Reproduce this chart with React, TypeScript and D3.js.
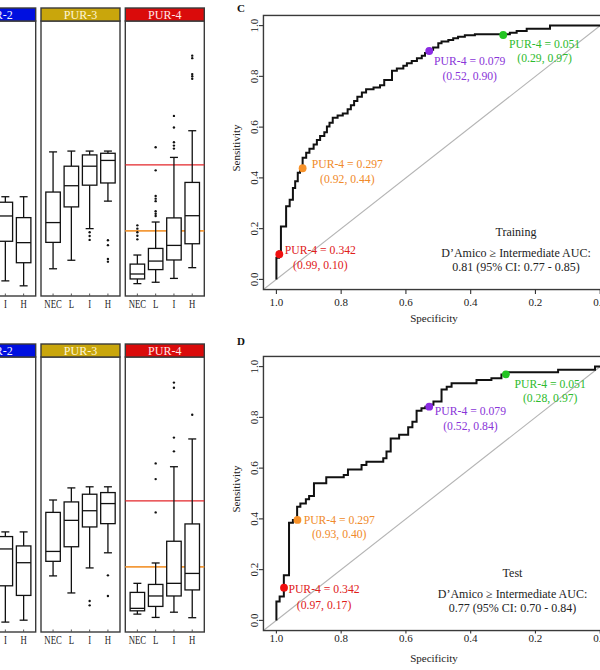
import React from "react";
import * as d3 from "d3";

const FONT = '"Liberation Serif", "Times New Roman", Times, serif';

// ---------- Box plot data (score units, 0..1 of the panel axis) ----------
const CATEGORIES = ["NEC", "L", "I", "H"];
const PANELS = ["PUR-2", "PUR-3", "PUR-4"];
const PANEL_COLORS = ["#0010E0", "#C9A60C", "#DA0B0B"];
const PANEL_TEXT = ["#f4f4ff", "#fff7d8", "#ffe8e8"];

// [lower whisker, Q1, median, Q3, upper whisker]; null = not visible in the crop
const TRAIN_PUR2 = [null, null, [0.055, 0.199, 0.291, 0.341, 0.361], [0.037, 0.121, 0.194, 0.285, 0.361]];
const TRAIN_PUR3 = [
  [0.099, 0.195, 0.267, 0.378, 0.524],
  [0.13, 0.324, 0.401, 0.472, 0.527],
  [0.245, 0.403, 0.472, 0.513, 0.527],
  [0.345, 0.411, 0.493, 0.519, 0.527],
];
const TRAIN_PUR4 = [
  [0.045, 0.062, 0.08, 0.116, 0.149],
  [0.05, 0.096, 0.127, 0.173, 0.269],
  [0.064, 0.131, 0.184, 0.284, 0.504],
  [0.103, 0.19, 0.292, 0.413, 0.601],
];
const TRAIN_OUT_PUR2 = [[], [], [], []];
const TRAIN_OUT_PUR3 = [[], [], [0.232, 0.218, 0.204], [0.203, 0.185, 0.135, 0.125]];
const TRAIN_OUT_PUR4 = [
  [0.257, 0.245, 0.232, 0.219, 0.206],
  [0.541, 0.457, 0.364, 0.354, 0.345, 0.308, 0.299, 0.291],
  [0.655, 0.613, 0.559, 0.547, 0.536],
  [0.874, 0.865, 0.807, 0.799, 0.79],
];

const TEST_PUR2 = [null, null, [0.036, 0.168, 0.302, 0.347, 0.364], [0.043, 0.133, 0.252, 0.313, 0.364]];
const TEST_PUR3 = [
  [0.204, 0.257, 0.293, 0.435, 0.48],
  [0.142, 0.31, 0.406, 0.473, 0.524],
  [0.233, 0.382, 0.441, 0.501, 0.528],
  [0.288, 0.394, 0.467, 0.507, 0.528],
];
const TEST_PUR4 = [
  [0.065, 0.077, 0.086, 0.144, 0.177],
  [0.053, 0.093, 0.131, 0.173, 0.251],
  [0.072, 0.131, 0.177, 0.33, 0.601],
  [0.052, 0.153, 0.213, 0.393, 0.702],
];
const TEST_OUT_PUR2 = [[], [], [], []];
const TEST_OUT_PUR3 = [[], [], [0.113, 0.097], [0.206, 0.131]];
const TEST_OUT_PUR4 = [[], [0.613, 0.556, 0.435], [0.907, 0.888, 0.707, 0.657], [0.79]];

const CUTOFF_HIGH = 0.477; // PUR-4 = 0.342
const CUTOFF_LOW = 0.237; // PUR-4 = 0.297

// ---------- ROC data ----------
const TRAIN_SPEC = [
  1.0, 1.0, 0.992, 0.992, 0.986, 0.986, 0.97, 0.97, 0.959, 0.959, 0.949, 0.949, 0.942, 0.942, 0.934, 0.934,
  0.927, 0.927, 0.919, 0.919, 0.908, 0.908, 0.898, 0.898, 0.885, 0.885, 0.875, 0.875, 0.865, 0.865, 0.852,
  0.852, 0.844, 0.844, 0.836, 0.836, 0.826, 0.826, 0.811, 0.811, 0.795, 0.795, 0.78, 0.78, 0.77, 0.77, 0.76,
  0.76, 0.75, 0.75, 0.736, 0.736, 0.723, 0.723, 0.7, 0.7, 0.68, 0.68, 0.667, 0.667, 0.643, 0.643, 0.628,
  0.628, 0.608, 0.608, 0.597, 0.597, 0.582, 0.582, 0.566, 0.566, 0.551, 0.551, 0.541, 0.541, 0.528, 0.528,
  0.516, 0.516, 0.5, 0.5, 0.49, 0.49, 0.469, 0.469, 0.454, 0.454, 0.439, 0.439, 0.418, 0.418, 0.387, 0.387,
  0.279, 0.279, 0.258, 0.258, 0.227, 0.227, 0.155, 0.155, 0.0,
];
const TRAIN_SENS = [
  0.0, 0.085, 0.085, 0.11, 0.11, 0.208, 0.208, 0.288, 0.288, 0.314, 0.314, 0.36, 0.36, 0.387, 0.387, 0.42,
  0.42, 0.438, 0.438, 0.479, 0.479, 0.499, 0.499, 0.515, 0.515, 0.532, 0.532, 0.549, 0.549, 0.565, 0.565,
  0.58, 0.58, 0.602, 0.602, 0.617, 0.617, 0.637, 0.637, 0.646, 0.646, 0.654, 0.654, 0.67, 0.67, 0.686,
  0.686, 0.703, 0.703, 0.72, 0.72, 0.736, 0.736, 0.749, 0.749, 0.756, 0.756, 0.765, 0.765, 0.786, 0.786,
  0.822, 0.822, 0.831, 0.831, 0.842, 0.842, 0.852, 0.852, 0.861, 0.861, 0.871, 0.871, 0.881, 0.881, 0.892,
  0.892, 0.905, 0.905, 0.914, 0.914, 0.93, 0.93, 0.937, 0.937, 0.943, 0.943, 0.95, 0.95, 0.956, 0.956,
  0.962, 0.962, 0.966, 0.966, 0.972, 0.972, 0.979, 0.979, 0.988, 0.988, 1.0, 1.0,
];
const TEST_SPEC = [
  1.0, 1.0, 0.99, 0.99, 0.977, 0.977, 0.961, 0.961, 0.949, 0.949, 0.936, 0.936, 0.926, 0.926, 0.909, 0.909,
  0.899, 0.899, 0.884, 0.884, 0.846, 0.846, 0.792, 0.792, 0.779, 0.779, 0.737, 0.737, 0.722, 0.722, 0.67,
  0.67, 0.66, 0.66, 0.647, 0.647, 0.621, 0.621, 0.593, 0.593, 0.58, 0.58, 0.567, 0.567, 0.552, 0.552, 0.54,
  0.54, 0.528, 0.528, 0.515, 0.515, 0.49, 0.49, 0.474, 0.474, 0.459, 0.459, 0.382, 0.382, 0.336, 0.336,
  0.305, 0.305, 0.291, 0.291, 0.13, 0.13, 0.016, 0.016, 0.0,
];
const TEST_SENS = [
  0.0, 0.074, 0.074, 0.094, 0.094, 0.178, 0.178, 0.385, 0.385, 0.396, 0.396, 0.448, 0.448, 0.461, 0.461,
  0.477, 0.477, 0.49, 0.49, 0.54, 0.54, 0.564, 0.564, 0.573, 0.573, 0.595, 0.595, 0.612, 0.612, 0.625,
  0.625, 0.639, 0.639, 0.665, 0.665, 0.717, 0.717, 0.731, 0.731, 0.761, 0.761, 0.783, 0.783, 0.826, 0.826,
  0.836, 0.836, 0.842, 0.842, 0.85, 0.85, 0.862, 0.862, 0.91, 0.91, 0.921, 0.921, 0.934, 0.934, 0.947,
  0.947, 0.954, 0.954, 0.969, 0.969, 0.978, 0.978, 0.988, 0.988, 1.0, 1.0,
];

const CUT_LABELS = ["PUR-4 = 0.342", "PUR-4 = 0.297", "PUR-4 = 0.079", "PUR-4 = 0.051"];
const CUT_COLORS = ["#F01010", "#F7922A", "#8A2BE2", "#22C422"];
const CUT_TEXT_COLORS = ["#E0201A", "#F08A2A", "#8A35D8", "#2DBB2D"];
const TRAIN_CUT_SPEC = [0.991, 0.919, 0.528, 0.2995];
const TRAIN_CUT_SENS = [0.099, 0.438, 0.9, 0.963];
const TRAIN_CUT_TEXT = ["(0.99, 0.10)", "(0.92, 0.44)", "(0.52, 0.90)", "(0.29, 0.97)"];
const TEST_CUT_SPEC = [0.9765, 0.935, 0.528, 0.2912];
const TEST_CUT_SENS = [0.129, 0.396, 0.842, 0.9696];
const TEST_CUT_TEXT = ["(0.97, 0.17)", "(0.93, 0.40)", "(0.52, 0.84)", "(0.28, 0.97)"];

const AXIS_TICKS = [0, 0.2, 0.4, 0.6, 0.8, 1.0];

// label offsets (px) relative to marker: [dx center, dy line1 baseline, dy line2 baseline]
const TRAIN_LABEL_POS = [[41, -0.5, 14.5], [44.7, 0.2, 15], [40.5, 14.3, 28.6], [41.4, 12.6, 26.6]];
const TEST_LABEL_POS = [[40, 5.8, 21.3], [41.8, 4, 18], [41.2, 8.3, 23], [44.3, 13.2, 27.6]];

type Stat = number[] | null;

function BoxRow(props: { top: number; stats: Stat[][]; outs: number[][][] }) {
  const { top, stats, outs } = props;
  const headerTop = top;
  const bodyTop = top + 13;
  const bodyBottom = top + 288;
  const y = d3.scaleLinear().domain([0, 1]).range([bodyBottom, bodyTop]);
  const panelX = d3.scaleBand<string>().domain(PANELS).range([-43.3, 204.3]).paddingInner(0.0629).paddingOuter(0);
  const bw = panelX.bandwidth();
  const catX = d3.scalePoint<string>().domain(CATEGORIES).range([0, bw]).padding(0.66);
  const boxW = 14.5;
  const capW = 8;
  return (
    <g>
      {PANELS.map((p, pi) => {
        const x0 = panelX(p) as number;
        return (
          <g key={p} transform={`translate(${x0},0)`}>
            <rect x={0} y={bodyTop} width={bw} height={bodyBottom - bodyTop} fill="#fff" stroke="#3a3a3a" strokeWidth={1.4} />
            {p === "PUR-4" && (
              <g>
                <line x1={0} x2={bw} y1={y(CUTOFF_HIGH)} y2={y(CUTOFF_HIGH)} stroke="#E3262A" strokeWidth={1.3} />
                <line x1={0} x2={bw} y1={y(CUTOFF_LOW)} y2={y(CUTOFF_LOW)} stroke="#F39A3A" strokeWidth={1.6} />
              </g>
            )}
            {CATEGORIES.map((c, ci) => {
              const s = stats[pi][ci];
              const cx = catX(c) as number;
              return (
                <g key={c}>
                  <line x1={cx} x2={cx} y1={bodyBottom - 2.5} y2={bodyBottom} stroke="#555" strokeWidth={1} />
                  <text
                    transform={`translate(${cx},${bodyBottom + 11.5}) scale(0.76,1)`}
                    textAnchor="middle"
                    fontFamily={FONT}
                    fontSize={11.5}
                    fill="#222"
                  >
                    {c}
                  </text>
                  {s && (
                    <g stroke="#111" strokeWidth={1.3} fill="none">
                      <line x1={cx} x2={cx} y1={y(s[3])} y2={y(s[4])} />
                      <line x1={cx} x2={cx} y1={y(s[1])} y2={y(s[0])} />
                      <line x1={cx - capW / 2} x2={cx + capW / 2} y1={y(s[4])} y2={y(s[4])} />
                      <line x1={cx - capW / 2} x2={cx + capW / 2} y1={y(s[0])} y2={y(s[0])} />
                      <rect x={cx - boxW / 2} y={y(s[3])} width={boxW} height={y(s[1]) - y(s[3])} fill="#fff" />
                      <line x1={cx - boxW / 2} x2={cx + boxW / 2} y1={y(s[2])} y2={y(s[2])} />
                    </g>
                  )}
                  {outs[pi][ci].map((o, oi) => (
                    <circle key={oi} cx={cx} cy={y(o)} r={1.2} fill="#111" />
                  ))}
                </g>
              );
            })}
            <rect x={0} y={headerTop} width={bw} height={bodyTop - headerTop} fill={PANEL_COLORS[pi]} stroke="#3a3a3a" strokeWidth={1.4} />
            <text
              x={bw / 2}
              y={headerTop + 10.5}
              textAnchor="middle"
              fontFamily={FONT}
              fontSize={12}
              fill={PANEL_TEXT[pi]}
            >
              {p}
            </text>
          </g>
        );
      })}
    </g>
  );
}

function RocPanel(props: {
  dy: number;
  spec: number[];
  sens: number[];
  cutSpec: number[];
  cutSens: number[];
  cutText: string[];
  labelPos: number[][];
  letter: string;
  letterY: number;
  title: string;
  auc: string;
  textX: number;
  textY: number[];
  tickLabelY: number;
  tickLen: number;
  xlabY: number;
  ylabY: number;
}) {
  const p = props;
  const x = d3.scaleLinear().domain([1, 0]).range([276.4, 600.2]);
  const y = d3.scaleLinear().domain([0, 1]).range([279.4 + p.dy, 25.6 + p.dy]);
  const fx0 = x(1.04);
  const fx1 = x(-0.04);
  const fy0 = y(1.04);
  const fy1 = y(-0.04);
  const pts: [number, number][] = p.spec.map((s, i) => [s, p.sens[i]]);
  const line = d3
    .line<[number, number]>()
    .x((d) => x(d[0]))
    .y((d) => y(d[1]));
  return (
    <g fontFamily={FONT}>
      <text x={237} y={p.letterY} fontSize={11} fontWeight="bold" fill="#111">
        {p.letter}
      </text>
      <line x1={fx0} y1={fy1} x2={fx1} y2={fy0} stroke="#b4b4b4" strokeWidth={1.1} />
      <path d={line(pts) || ""} fill="none" stroke="#111" strokeWidth={2} strokeLinejoin="miter" />
      <rect x={fx0} y={fy0} width={fx1 - fx0} height={fy1 - fy0} fill="none" stroke="#3a3a3a" strokeWidth={1.4} />
      {AXIS_TICKS.map((t) => (
        <g key={"y" + t}>
          <line x1={fx0 - 4.5} x2={fx0} y1={y(t)} y2={y(t)} stroke="#333" strokeWidth={1.1} />
          <text
            transform={`translate(${fx0 - 5},${y(t)}) rotate(-90)`}
            textAnchor="middle"
            fontSize={11}
            fill="#222"
          >
            {t.toFixed(1)}
          </text>
        </g>
      ))}
      {AXIS_TICKS.map((t) => (
        <g key={"x" + t}>
          <line x1={x(t)} x2={x(t)} y1={fy1} y2={fy1 + p.tickLen} stroke="#333" strokeWidth={1.1} />
          <text x={x(t)} y={p.tickLabelY} textAnchor="middle" fontSize={11} fill="#222">
            {t.toFixed(1)}
          </text>
        </g>
      ))}
      <text transform={`translate(240,${p.ylabY}) rotate(-90)`} textAnchor="middle" fontSize={11} fill="#222">
        Sensitivity
      </text>
      <text x={434} y={p.xlabY} textAnchor="middle" fontSize={11} fill="#222">
        Specificity
      </text>
      {p.cutSpec.map((s, i) => {
        const cx = x(s);
        const cy = y(p.cutSens[i]);
        const lp = p.labelPos[i];
        return (
          <g key={i}>
            <circle cx={cx} cy={cy} r={3.9} fill={CUT_COLORS[i]} />
            <text x={cx + lp[0]} y={cy + lp[1]} textAnchor="middle" fontSize={11.7} fill={CUT_TEXT_COLORS[i]}>
              {CUT_LABELS[i]}
            </text>
            <text x={cx + lp[0]} y={cy + lp[2]} textAnchor="middle" fontSize={11.7} fill={CUT_TEXT_COLORS[i]}>
              {p.cutText[i]}
            </text>
          </g>
        );
      })}
      <text x={p.textX} y={p.textY[0]} textAnchor="middle" fontSize={12} fill="#222">
        {p.title}
      </text>
      <text x={p.textX} y={p.textY[1]} textAnchor="middle" fontSize={12} fill="#222">
        D’Amico ≥ Intermediate AUC:
      </text>
      <text x={p.textX} y={p.textY[2]} textAnchor="middle" fontSize={12} fill="#222">
        {p.auc}
      </text>
    </g>
  );
}

export default function App() {
  return (
    <svg
      width={600}
      height={670}
      viewBox="0 0 600 670"
      style={{ position: "absolute", left: 0, top: 0, background: "#fff", display: "block" }}
    >
      <rect width={600} height={670} fill="#fff" />
      <BoxRow
        top={8}
        stats={[TRAIN_PUR2, TRAIN_PUR3, TRAIN_PUR4]}
        outs={[TRAIN_OUT_PUR2, TRAIN_OUT_PUR3, TRAIN_OUT_PUR4]}
      />
      <BoxRow
        top={344}
        stats={[TEST_PUR2, TEST_PUR3, TEST_PUR4]}
        outs={[TEST_OUT_PUR2, TEST_OUT_PUR3, TEST_OUT_PUR4]}
      />
      <RocPanel
        dy={0}
        spec={TRAIN_SPEC}
        sens={TRAIN_SENS}
        cutSpec={TRAIN_CUT_SPEC}
        cutSens={TRAIN_CUT_SENS}
        cutText={TRAIN_CUT_TEXT}
        labelPos={TRAIN_LABEL_POS}
        letter="C"
        letterY={11.7}
        title="Training"
        auc="0.81 (95% CI: 0.77 - 0.85)"
        textX={516}
        textY={[235.7, 256.7, 270.7]}
        tickLabelY={305.5}
        tickLen={4.5}
        xlabY={322}
        ylabY={148}
      />
      <RocPanel
        dy={341}
        spec={TEST_SPEC}
        sens={TEST_SENS}
        cutSpec={TEST_CUT_SPEC}
        cutSens={TEST_CUT_SENS}
        cutText={TEST_CUT_TEXT}
        labelPos={TEST_LABEL_POS}
        letter="D"
        letterY={345}
        title="Test"
        auc="0.77 (95% CI: 0.70 - 0.84)"
        textX={512.5}
        textY={[577.3, 598, 612.3]}
        tickLabelY={642}
        tickLen={3}
        xlabY={662}
        ylabY={489}
      />
    </svg>
  );
}
